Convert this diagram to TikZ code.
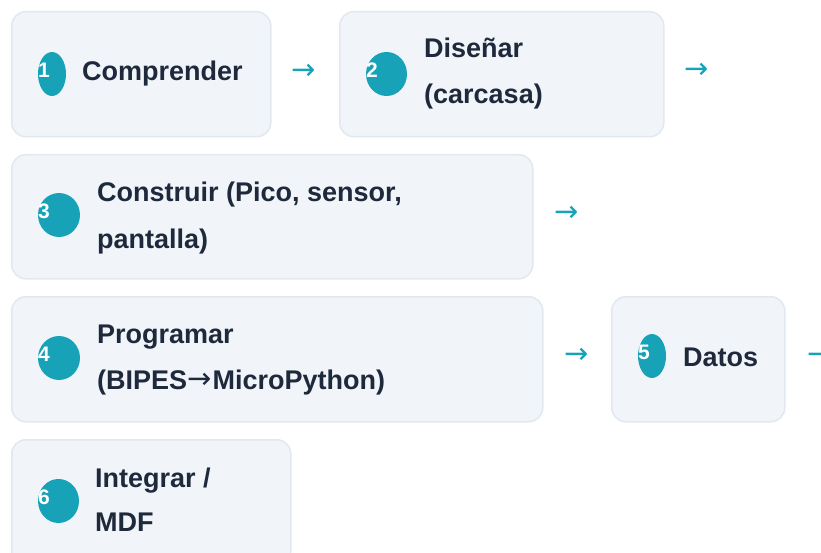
\documentclass[tikz,border=0pt]{standalone}
\usepackage{fontspec}
\setmainfont{Liberation Sans}
\newfontfamily\arrowfont{DejaVu Sans}
\usetikzlibrary{shapes.geometric}
\definecolor{boxfill}{HTML}{F1F5FA}
\definecolor{boxline}{HTML}{E2E8F0}
\definecolor{tealc}{HTML}{17A2B8}
\definecolor{ink}{HTML}{1E293B}
\begin{document}
\begin{tikzpicture}[x=1pt,y=-1pt,
  box/.style={draw=boxline, line width=1.5pt, fill=boxfill, rounded corners=14pt, inner sep=0pt, anchor=north west, minimum height=125pt},
  badge/.style={ellipse, fill=tealc, inner sep=0pt, minimum height=44pt},
  num/.style={text=white, font=\bfseries\fontsize{21}{21}\selectfont, anchor=base west, inner sep=0pt},
  lbl/.style={text=ink, font=\bfseries\fontsize{27}{27}\selectfont, anchor=base west, inner sep=0pt},
  flow/.style={text=tealc, font=\arrowfont\fontsize{29}{29}\selectfont, inner sep=0pt}]
\useasboundingbox (0,0) rectangle (821,553);
\clip (0,0) rectangle (821,553);
\fill[white] (0,0) rectangle (821,553);
% boxes
\node[box, minimum width=259pt] (b1) at (11,11) {};
\node[box, minimum width=324pt] (b2) at (339,11) {};
\node[box, minimum width=521pt, minimum height=124pt] (b3) at (11,154) {};
\node[box, minimum width=531pt] (b4) at (11,296) {};
\node[box, minimum width=173pt] (b5) at (611,296) {};
\node[box, minimum width=279pt] (b6) at (11,439) {};
% badges
\node[badge, minimum width=28pt] (c1) at (52,74) {};
\node[badge, minimum width=41pt] (c2) at (386.5,74) {};
\node[badge, minimum width=42pt] (c3) at (59,215) {};
\node[badge, minimum width=42pt] (c4) at (59,358) {};
\node[badge, minimum width=28pt] (c5) at (652,356) {};
\node[badge, minimum width=41pt] (c6) at (58.5,501) {};
\node[num] (n1) at (38,77.5) {1};
\node[num] (n2) at (366,77.5) {2};
\node[num] (n3) at (38,218.5) {3};
\node[num] (n4) at (38,361.5) {4};
\node[num] (n5) at (638,359.5) {5};
\node[num] (n6) at (38,504.5) {6};
% labels
\node[lbl] (t1) at (82,81) {Comprender};
\node[lbl] (t2a) at (424,58) {Diseñar};
\node[lbl] (t2b) at (424,104) {(carcasa)};
\node[lbl] (t3a) at (97,202) {Construir (Pico, sensor,};
\node[lbl] (t3b) at (97,248) {pantalla)};
\node[lbl] (t4a) at (97,343) {Programar};
\node[lbl] (t4b) at (97,389) {(BIPES\kern0.5pt{\arrowfont\mdseries\fontsize{29}{29}\selectfont\raisebox{1pt}{→}}\kern0.5pt MicroPython)};
\node[lbl] (t5) at (683,366) {Datos};
\node[lbl] (t6a) at (95,487) {Integrar /};
\node[lbl] (t6b) at (95,531) {MDF};
% flow arrows
\node[flow] (a1) at (303.5,71.5) {→};
\node[flow] (a2) at (696.5,71) {→};
\node[flow] (a3) at (566.5,214) {→};
\node[flow] (a4) at (576.5,356) {→};
\node[flow] (a5) at (820,356) {→};
\end{tikzpicture}
\end{document}
